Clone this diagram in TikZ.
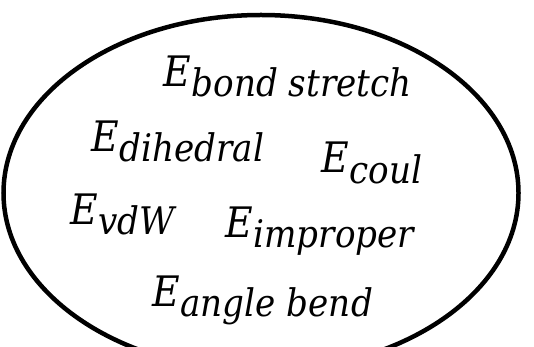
\documentclass[tikz,border=0pt]{standalone}
\usepackage{fontspec}
\setmainfont{DejaVu Serif Condensed}
\usetikzlibrary{shapes.geometric}
\newcommand{\energy}[1]{E\kern1pt\raisebox{-10pt}{\fontsize{38}{40}\selectfont #1}}
\tikzset{
  term/.style={anchor=base west, inner sep=0pt, outer sep=0pt, font=\fontsize{42}{46}\selectfont\itshape},
  bubble/.style={draw=black, line width=4.5pt}
}
\begin{document}
\begin{tikzpicture}[x=1pt,y=-1pt]
\useasboundingbox (0,0) rectangle (534,347);
\clip (0,0) rectangle (534,347);
\node[bubble, ellipse, minimum width=515pt, minimum height=356pt, inner sep=0pt] (set) at (261,193) {};
\node[term] (bond) at (163,87) {\energy{bond stretch}};
\node[term] (dih) at (91,152) {\energy{dihedral}};
\node[term] (coul) at (321,173) {\energy{coul}};
\node[term] (vdw) at (70,224) {\energy{vdW}};
\node[term] (imp) at (225,237) {\energy{improper}};
\node[term] (ang) at (152,306) {\energy{angle bend}};
\end{tikzpicture}
\end{document}
